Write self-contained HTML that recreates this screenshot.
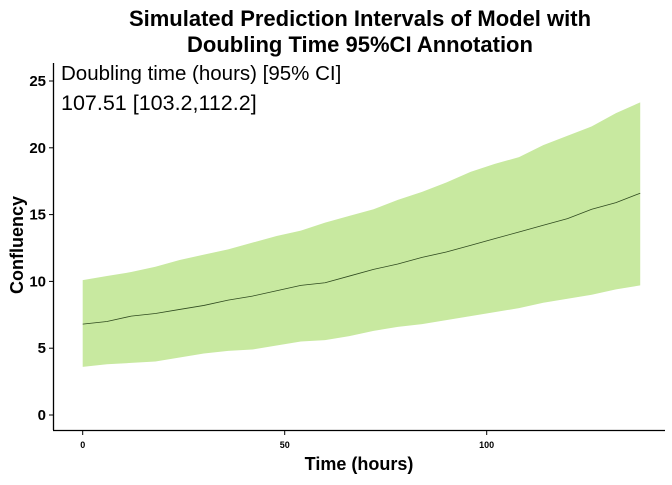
<!DOCTYPE html>
<html><head><meta charset="utf-8"><style>
body{margin:0;background:#fff;}
svg text{font-family:"Liberation Sans",Arial,sans-serif;}
</style></head><body>
<svg id="chart" width="672" height="480" xmlns="http://www.w3.org/2000/svg">
<text x="360" y="26" text-anchor="middle" font-size="22" font-weight="bold">Simulated Prediction Intervals of Model with</text>
<text x="360" y="52" text-anchor="middle" font-size="22" font-weight="bold">Doubling Time 95%CI Annotation</text>
<g id="plot"></g>
<line x1="53.5" y1="63" x2="53.5" y2="430" stroke="#000" stroke-width="1.3"/>
<line x1="53" y1="430.5" x2="665" y2="430.5" stroke="#000" stroke-width="1.3"/>
<g id="yticks"></g><g id="xticks"></g>
<text x="61" y="80" font-size="20.5">Doubling time (hours) [95% CI]</text>
<text x="61" y="110" font-size="21.5">107.51 [103.2,112.2]</text>
<text x="359" y="470" text-anchor="middle" font-size="18" font-weight="bold">Time (hours)</text>
<text transform="translate(23,245) rotate(-90)" text-anchor="middle" font-size="18" font-weight="bold">Confluency</text>
</svg>
<script>
const times=[0,6,12,18,24,30,36,42,48,54,60,66,72,78,84,90,96,102,108,114,120,126,132,138];
const mid=[6.8,7.0,7.4,7.6,7.9,8.2,8.6,8.9,9.3,9.7,9.9,10.4,10.9,11.3,11.8,12.2,12.7,13.2,13.7,14.2,14.7,15.4,15.9,16.6];
const upper=[10.1,10.4,10.7,11.1,11.6,12.0,12.4,12.9,13.4,13.8,14.4,14.9,15.4,16.1,16.7,17.4,18.2,18.8,19.3,20.2,20.9,21.6,22.6,23.4];
const lower=[3.6,3.8,3.9,4.0,4.3,4.6,4.8,4.9,5.2,5.5,5.6,5.9,6.3,6.6,6.8,7.1,7.4,7.7,8.0,8.4,8.7,9.0,9.4,9.7];
const yTicks=[0,5,10,15,20,25];
const xTicks=[0,50,100];
const NS="http://www.w3.org/2000/svg";
const xs=t=>82.7+t*4.04;
const ys=v=>415-v*13.36;
const plot=document.getElementById('plot');
let d='M'+times.map((t,i)=>xs(t)+','+ys(upper[i])).join('L');
for(let i=times.length-1;i>=0;i--)d+='L'+xs(times[i])+','+ys(lower[i]);
const band=document.createElementNS(NS,'path');
band.setAttribute('d',d+'Z');band.setAttribute('fill','#c8e9a0');


plot.appendChild(band);
const line=document.createElementNS(NS,'path');
line.setAttribute('d','M'+times.map((t,i)=>xs(t)+','+ys(mid[i])).join('L'));
line.setAttribute('fill','none');line.setAttribute('stroke','#2f4a1f');line.setAttribute('stroke-width','0.8');


plot.appendChild(line);
const yg=document.getElementById('yticks');
yTicks.forEach(v=>{
 const l=document.createElementNS(NS,'line');
 l.setAttribute('x1',49);l.setAttribute('x2',53);l.setAttribute('y1',ys(v));l.setAttribute('y2',ys(v));l.setAttribute('stroke','#000');
 
 
 yg.appendChild(l);
 const t=document.createElementNS(NS,'text');
 t.setAttribute('x',46);t.setAttribute('y',ys(v)+5);t.setAttribute('text-anchor','end');t.setAttribute('font-size','15');t.setAttribute('font-weight','bold');
 t.textContent=v;
 
 
 yg.appendChild(t);
});
const xg=document.getElementById('xticks');
xTicks.forEach(v=>{
 const l=document.createElementNS(NS,'line');
 l.setAttribute('x1',xs(v));l.setAttribute('x2',xs(v));l.setAttribute('y1',431);l.setAttribute('y2',435);l.setAttribute('stroke','#000');
 
 
 xg.appendChild(l);
 const t=document.createElementNS(NS,'text');
 t.setAttribute('x',xs(v));t.setAttribute('y',448);t.setAttribute('text-anchor','middle');t.setAttribute('font-size','9');t.setAttribute('font-weight','bold');
 t.textContent=v;
 
 
 xg.appendChild(t);
});
</script>
</body></html>
